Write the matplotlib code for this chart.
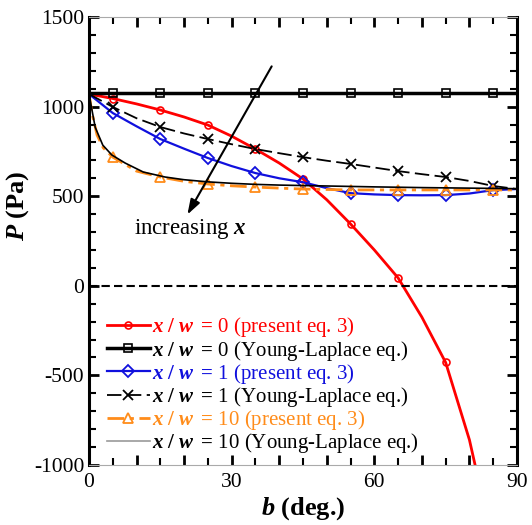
import numpy as np
import matplotlib
matplotlib.use("Agg")
import matplotlib.pyplot as plt
from matplotlib.ticker import MultipleLocator, FuncFormatter

plt.rcParams['font.family'] = ['Liberation Serif', 'DejaVu Serif']
plt.rcParams['mathtext.fontset'] = 'custom'
plt.rcParams['mathtext.rm'] = 'Liberation Serif'
plt.rcParams['mathtext.it'] = 'Liberation Serif:italic'
plt.rcParams['mathtext.bf'] = 'Liberation Serif:bold'
plt.rcParams['mathtext.bfit'] = 'Liberation Serif:italic:bold'
plt.rcParams['axes.unicode_minus'] = False

# ---- data ----
marker_b = [5, 15, 25, 35, 45, 55, 65, 75, 85]

b_red = [0, 5, 10, 15, 20, 25, 30, 35, 40, 45, 50, 55, 60, 65, 70, 75, 80, 85]
p_red = [1070, 1045, 1015, 981, 942, 897, 835, 763, 685, 596, 480, 345, 200, 44, -175, -428, -860, -1450]

b_yl0 = [0, 5, 15, 25, 35, 45, 55, 65, 75, 85, 90]
p_yl0 = [1075, 1075, 1075, 1075, 1075, 1075, 1075, 1075, 1075, 1075, 1075]

b_blue = [0, 5, 10, 15, 20, 25, 30, 35, 40, 45, 50, 55, 60, 65, 70, 75, 80, 85, 90]
p_blue = [1070, 964, 890, 819, 765, 713, 668, 629, 600, 578, 545, 517, 510, 506, 505, 506, 515, 534, 540]

b_yl1 = [0, 5, 10, 15, 20, 25, 30, 35, 40, 45, 50, 55, 60, 65, 70, 75, 80, 85, 90]
p_yl1 = [1070, 998, 935, 886, 850, 819, 790, 763, 740, 718, 698, 680, 660, 640, 623, 607, 585, 557, 540]

b_or = [0, 0.6, 1.7, 3, 5, 10, 15, 20, 25, 30, 35, 40, 45, 55, 65, 75, 85, 90]
p_or = [1070, 968, 841, 770, 718, 640, 607, 583, 568, 558, 551, 545, 540, 535, 535, 535, 535, 535]

b_yl10 = [0, 1.3, 2.9, 4.8, 7.6, 11.4, 16, 20, 25, 30, 35, 40, 50, 60, 70, 80, 90]
p_yl10 = [1070, 885, 785, 730, 685, 635, 607, 592, 580, 572, 566, 562, 557, 552, 548, 545, 542]

pre = r'$\mathbfit{x}\ \mathbf{/}\ \mathbfit{w}\ \mathbf{=}\,$'
labels = [
    pre + '0 (present eq. 3)',
    pre + '0 (Young-Laplace eq.)',
    pre + '1 (present eq. 3)',
    pre + '1 (Young-Laplace eq.)',
    pre + '10 (present eq. 3)',
    pre + '10 (Young-Laplace eq.)',
]

def mk(b):
    return [i for i, v in enumerate(b) if v in marker_b]

fig = plt.figure(figsize=(5.32, 5.25), dpi=100)
ax = fig.add_axes([89/532, 1-465/525, 428/532, 448/525])

orange = '#ff8c1a'
blue = '#1010dd'
h1, = ax.plot(b_red, p_red, color='red', lw=2, marker='o', ms=5, mfc='none', mew=1.2,
              markevery=mk(b_red), label=labels[0])
h2, = ax.plot(b_yl0, p_yl0, color='black', lw=2.5, marker='s', ms=6, mfc='none', mew=1.2,
              markevery=mk(b_yl0), label=labels[1])
h3, = ax.plot(b_blue, p_blue, color=blue, lw=1.6, marker='D', ms=6, mfc='none', mew=1.3,
              markevery=mk(b_blue), label=labels[2])
h4, = ax.plot(b_yl1, p_yl1, color='black', lw=1.3, ls=(0, (8, 3)), marker='x', ms=7, mew=1.3,
              markevery=mk(b_yl1), label=labels[3])
h5, = ax.plot(b_or, p_or, color=orange, lw=2, ls=(0, (6, 2, 1.5, 2)), marker='^', ms=6.5, mfc='none', mew=1.3,
              markevery=mk(b_or), label=labels[4])
h6, = ax.plot(b_yl10, p_yl10, color='black', lw=1.2, label=labels[5])

ax.axhline(0, color='black', ls=(0, (4, 2)), lw=1.5)

ax.annotate('', xy=(20.4, 384), xytext=(38.7, 1238),
            arrowprops=dict(arrowstyle='-|>,head_length=0.9,head_width=0.3', color='black', lw=1.5))
ax.text(9.5, 317, r'increasing $\mathbfit{x}$', fontsize=16.5, va='center', ha='left')

ax.set_xlim(0, 90)
ax.set_ylim(-1000, 1500)
ax.xaxis.set_major_locator(MultipleLocator(10))
ax.xaxis.set_minor_locator(MultipleLocator(5))
ax.xaxis.set_major_formatter(FuncFormatter(lambda v, p: f'{int(round(v))}' if int(round(v)) % 30 == 0 else ''))
ax.yaxis.set_major_locator(MultipleLocator(500))
ax.yaxis.set_minor_locator(MultipleLocator(100))
ax.tick_params(which='both', direction='in', top=True, right=True, labelsize=15.5, colors='black')
ax.tick_params(which='major', length=7, width=2)
ax.tick_params(which='minor', length=5, width=1.5)
ax.tick_params(axis='x', pad=6)

for s in ['left', 'right']:
    ax.spines[s].set_linewidth(2.2)
    ax.spines[s].set_color('black')
for s in ['top', 'bottom']:
    ax.spines[s].set_linewidth(0.8)
    ax.spines[s].set_color('#aaaaaa')

ax.set_xlabel(r'$\mathbfit{b}$ (deg.)', fontsize=19, fontweight='bold', labelpad=2)
ax.set_ylabel(r'$\mathbfit{P}$ (Pa)', fontsize=19, fontweight='bold')
ax.yaxis.set_label_coords(-0.135, 0.578)

leg = ax.legend(handles=[h1, h2, h3, h4, h5, h6], loc='lower left', bbox_to_anchor=(0.019, 0.0),
                frameon=False, fontsize=15, handlelength=2.05, handletextpad=0.12,
                labelspacing=-0.04, borderaxespad=0.07)
cols = ['red', 'black', blue, 'black', orange, 'black']
for t, c in zip(leg.get_texts(), cols):
    t.set_color(c)
leg.get_lines()[5].set_color('#999999')

fig.savefig('out.png', dpi=100)
